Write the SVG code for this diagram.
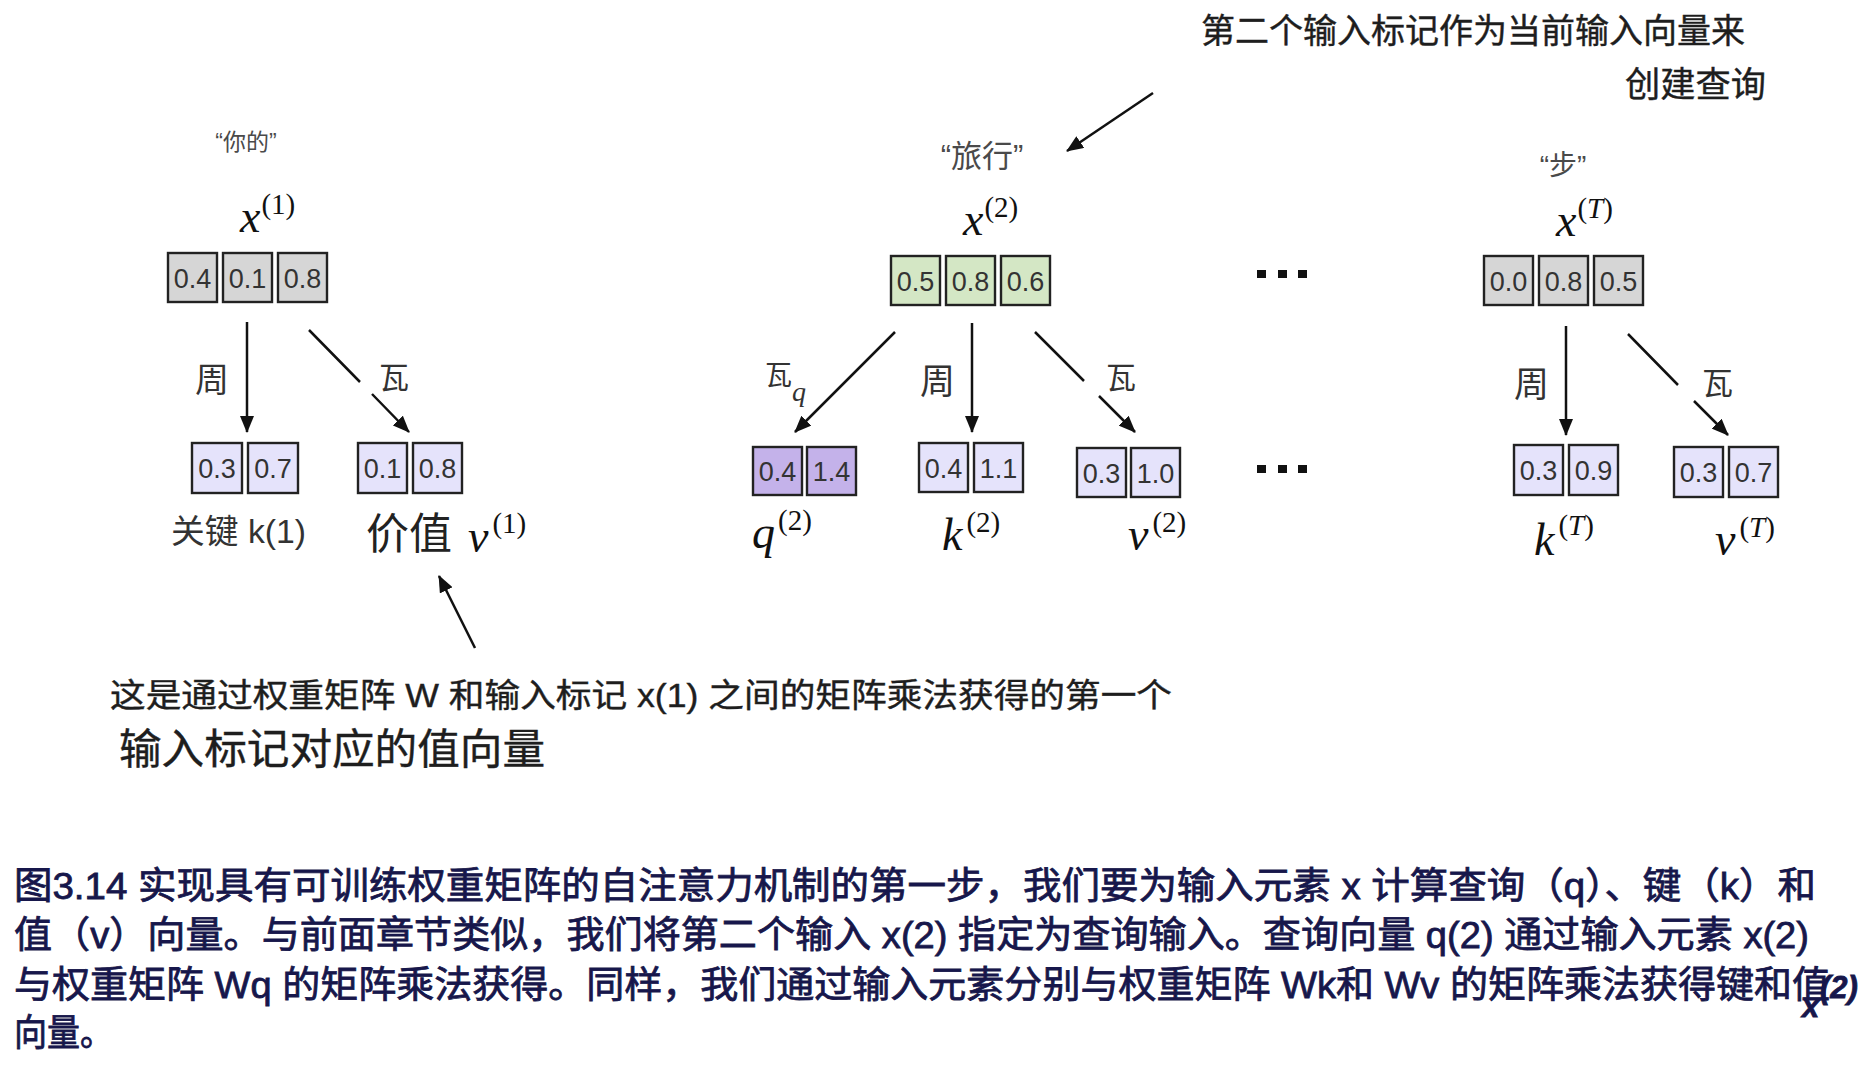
<svg xmlns="http://www.w3.org/2000/svg" width="1870" height="1068" viewBox="0 0 1870 1068">
<style>
.box{stroke:#222;stroke-width:2.4}
.g{fill:#d6d6d6}.gr{fill:#d4e7c5}.lv{fill:#e5e3fb}.pu{fill:#c4b2ea}
.num{font-family:"Liberation Sans",Arial,sans-serif;font-size:27px;fill:#333;text-anchor:middle}
.m{font-family:"Liberation Serif","Times New Roman",serif;font-style:italic;font-size:46px;fill:#111}
.sup{font-style:normal;font-size:29px}
.it{font-style:italic}
.cj{font-family:"Liberation Sans","Noto Sans CJK SC",sans-serif;fill:#333}
.lbl{font-family:"Liberation Sans","Noto Sans CJK SC",sans-serif;fill:#4a4a4a;text-anchor:middle}
.cap{font-family:"Liberation Sans","Noto Sans CJK SC",sans-serif;font-size:37px;fill:#17174b;stroke:#17174b;stroke-width:0.8}
.ann{font-family:"Liberation Sans","Noto Sans CJK SC",sans-serif;fill:#1e1e1e;stroke:#1e1e1e;stroke-width:0.4}
.arr{stroke:#111;stroke-width:2.5;fill:none;marker-end:url(#ah)}
.dot{fill:#111}
</style>
<defs>
<marker id="ah" markerUnits="userSpaceOnUse" markerWidth="17" markerHeight="14" refX="16" refY="7" orient="auto">
<path d="M0,0 L17,7 L0,14 z" fill="#111"/>
</marker>
</defs>

<g id="node-x1">
<text class="lbl" x="246" y="150" style="font-size:23px">“你的”</text>
<text class="m" x="240" y="232">x<tspan class="sup" dx="1" dy="-18">(1)</tspan></text>
<rect class="box g" x="168" y="253" width="49" height="49"/>
<rect class="box g" x="223" y="253" width="49" height="49"/>
<rect class="box g" x="278" y="253" width="49" height="49"/>
<text class="num" x="192.5" y="288">0.4</text>
<text class="num" x="247.5" y="288">0.1</text>
<text class="num" x="302.5" y="288">0.8</text>
</g>

<g id="node-k1">
<rect class="box lv" x="192" y="443" width="50" height="50"/>
<rect class="box lv" x="248" y="443" width="50" height="50"/>
<text class="num" x="217" y="478">0.3</text>
<text class="num" x="273" y="478">0.7</text>
<text class="cj" x="171" y="543" style="font-size:33px" textLength="135" lengthAdjust="spacingAndGlyphs">关键 k(1)</text>
</g>

<g id="node-v1">
<rect class="box lv" x="358" y="443" width="49" height="50"/>
<rect class="box lv" x="413" y="443" width="49" height="50"/>
<text class="num" x="382.5" y="478">0.1</text>
<text class="num" x="437.5" y="478">0.8</text>
<text class="cj" x="366" y="549" style="font-size:43px;fill:#222">价值</text>
<text class="m" x="468" y="552">v<tspan class="sup" dx="4" dy="-19">(1)</tspan></text>
</g>

<g id="node-x2">
<text class="lbl" x="982" y="167" style="font-size:31px">“旅行”</text>
<text class="m" x="963" y="235">x<tspan class="sup" dx="1" dy="-18">(2)</tspan></text>
<rect class="box gr" x="891" y="256" width="49" height="49"/>
<rect class="box gr" x="946" y="256" width="49" height="49"/>
<rect class="box gr" x="1001" y="256" width="49" height="49"/>
<text class="num" x="915.5" y="291">0.5</text>
<text class="num" x="970.5" y="291">0.8</text>
<text class="num" x="1025.5" y="291">0.6</text>
</g>

<g id="node-q2">
<rect class="box pu" x="753" y="447" width="49" height="48"/>
<rect class="box pu" x="807" y="447" width="49" height="48"/>
<text class="num" x="777.5" y="481">0.4</text>
<text class="num" x="831.5" y="481">1.4</text>
<text class="m" x="752" y="548">q<tspan class="sup" dx="3" dy="-18">(2)</tspan></text>
</g>

<g id="node-k2">
<rect class="box lv" x="919" y="443" width="49" height="49"/>
<rect class="box lv" x="974" y="443" width="49" height="49"/>
<text class="num" x="943.5" y="478">0.4</text>
<text class="num" x="998.5" y="478">1.1</text>
<text class="m" x="942" y="550">k<tspan class="sup" dx="4" dy="-18">(2)</tspan></text>
</g>

<g id="node-v2">
<rect class="box lv" x="1077" y="448" width="49" height="49"/>
<rect class="box lv" x="1131" y="448" width="49" height="49"/>
<text class="num" x="1101.5" y="483">0.3</text>
<text class="num" x="1155.5" y="483">1.0</text>
<text class="m" x="1128" y="550">v<tspan class="sup" dx="4" dy="-18">(2)</tspan></text>
</g>

<g id="node-xT">
<text class="lbl" x="1563" y="175" style="font-size:28px">“步”</text>
<text class="m" x="1556" y="236">x<tspan class="sup" dx="1" dy="-18">(<tspan class="it">T</tspan>)</tspan></text>
<rect class="box g" x="1484" y="256" width="49" height="49"/>
<rect class="box g" x="1539" y="256" width="49" height="49"/>
<rect class="box g" x="1594" y="256" width="49" height="49"/>
<text class="num" x="1508.5" y="291">0.0</text>
<text class="num" x="1563.5" y="291">0.8</text>
<text class="num" x="1618.5" y="291">0.5</text>
</g>

<g id="node-kT">
<rect class="box lv" x="1514" y="445" width="49" height="50"/>
<rect class="box lv" x="1569" y="445" width="49" height="50"/>
<text class="num" x="1538.5" y="480">0.3</text>
<text class="num" x="1593.5" y="480">0.9</text>
<text class="m" x="1534" y="555">k<tspan class="sup" dx="4" dy="-20">(<tspan class="it">T</tspan>)</tspan></text>
</g>

<g id="node-vT">
<rect class="box lv" x="1674" y="447" width="49" height="50"/>
<rect class="box lv" x="1729" y="447" width="49" height="50"/>
<text class="num" x="1698.5" y="482">0.3</text>
<text class="num" x="1753.5" y="482">0.7</text>
<text class="m" x="1715" y="555">v<tspan class="sup" dx="4" dy="-18">(<tspan class="it">T</tspan>)</tspan></text>
</g>

<g id="ellipses">
<rect class="dot" x="1257" y="270" width="9" height="8"/>
<rect class="dot" x="1278" y="270" width="9" height="8"/>
<rect class="dot" x="1298" y="270" width="9" height="8"/>
<rect class="dot" x="1257" y="465" width="9" height="8"/>
<rect class="dot" x="1278" y="465" width="9" height="8"/>
<rect class="dot" x="1298" y="465" width="9" height="8"/>
</g>

<g id="connectors">
<path class="arr" d="M247,322 L247,432"/>
<path class="arr" d="M309,330 L360,382 M372,394 L409,432"/>
<path class="arr" d="M895,332 L795,432"/>
<path class="arr" d="M972,323 L972,432"/>
<path class="arr" d="M1035,332 L1084,381 M1099,396 L1135,432"/>
<path class="arr" d="M1566,326 L1566,435"/>
<path class="arr" d="M1628,334 L1678,385 M1694,401 L1728,435"/>
<path class="arr" d="M1153,93 L1067,151"/>
<path class="arr" d="M475,648 L439,576"/>
</g>

<g id="edge-labels">
<text class="cj" x="195" y="392" style="font-size:34px">周</text>
<text class="cj" x="379" y="388" style="font-size:30px">瓦</text>
<text class="cj" x="765" y="385" style="font-size:27px">瓦</text>
<text class="m" x="792" y="401" style="font-size:28px;fill:#333">q</text>
<text class="cj" x="920" y="394" style="font-size:35px">周</text>
<text class="cj" x="1106" y="388" style="font-size:30px">瓦</text>
<text class="cj" x="1514" y="397" style="font-size:35px">周</text>
<text class="cj" x="1702" y="394" style="font-size:31px">瓦</text>
</g>

<g id="annotations">
<text class="ann" x="1201" y="43" style="font-size:34px" textLength="544" lengthAdjust="spacingAndGlyphs">第二个输入标记作为当前输入向量来</text>
<text class="ann" x="1625" y="97" style="font-size:35px" textLength="141" lengthAdjust="spacingAndGlyphs">创建查询</text>
<text class="ann" x="110" y="707" style="font-size:33px" textLength="1062" lengthAdjust="spacingAndGlyphs">这是通过权重矩阵 W 和输入标记 x(1) 之间的矩阵乘法获得的第一个</text>
<text class="ann" x="119" y="764" style="font-size:42px" textLength="426" lengthAdjust="spacingAndGlyphs">输入标记对应的值向量</text>
</g>

<g id="caption">
<text class="cap" x="14" y="899" textLength="1802" lengthAdjust="spacingAndGlyphs">图3.14 实现具有可训练权重矩阵的自注意力机制的第一步，我们要为输入元素 x 计算查询（q）、键（k）和</text>
<text class="cap" x="14" y="948" textLength="1795" lengthAdjust="spacingAndGlyphs">值（v）向量。与前面章节类似，我们将第二个输入 x(2) 指定为查询输入。查询向量 q(2) 通过输入元素 x(2)</text>
<text class="cap" x="14" y="998" textLength="1816" lengthAdjust="spacingAndGlyphs">与权重矩阵 Wq 的矩阵乘法获得。同样，我们通过输入元素分别与权重矩阵 Wk和 Wv 的矩阵乘法获得键和值</text>
<text class="cap" x="14" y="1046" textLength="99" lengthAdjust="spacingAndGlyphs">向量。</text>
<text class="cap" x="1820" y="998" style="font-size:31px;font-weight:bold;font-style:italic">(2)</text>
<text class="cap" x="1802" y="1017" style="font-size:31px;font-weight:bold;font-style:italic">x</text>
</g>
</svg>
